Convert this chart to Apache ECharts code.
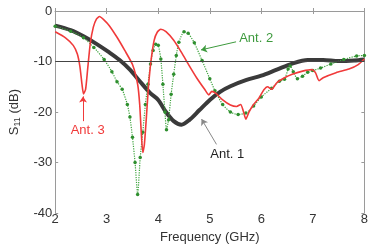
<!DOCTYPE html>
<html>
<head>
<meta charset="utf-8">
<script src="https://cdn.jsdelivr.net/npm/echarts@6/dist/echarts.min.js"></script>
<style>
html, body { margin: 0; padding: 0; background: #fff; }
#chart { width: 371px; height: 249px; }
</style>
</head>
<body>
<div id="chart"></div>
<script>
// frequency (GHz) and S11 (dB)
var ant1Freq = [2.0, 2.3, 2.55, 2.8, 3.05, 3.25, 3.45, 3.65, 3.85, 4.0, 4.15, 4.3, 4.45, 4.6, 4.8, 5.0, 5.2, 5.4, 5.7, 6.0, 6.3, 6.6, 6.9, 7.2, 7.5, 7.8, 8.0]
var ant1S11 = [-2.9, -3.8, -5.0, -6.5, -8.2, -9.7, -11.6, -14.0, -16.3, -17.6, -20.0, -21.8, -22.5, -21.6, -19.6, -17.6, -16.0, -14.9, -13.7, -12.8, -11.6, -10.4, -9.7, -9.7, -9.9, -9.8, -9.6]

var ant2Freq = [2.0, 2.3, 2.55, 2.75, 2.95, 3.1, 3.2, 3.3, 3.4, 3.45, 3.5, 3.55, 3.6, 3.65, 3.7, 3.75, 3.8, 3.85, 3.9, 3.95, 4.0, 4.05, 4.09, 4.13, 4.16, 4.2, 4.25, 4.3, 4.35, 4.4, 4.5, 4.58, 4.7, 4.85, 5.0, 5.1, 5.25, 5.4, 5.55, 5.7, 5.85, 6.0, 6.2, 6.35, 6.45, 6.52, 6.56, 6.62, 6.7, 6.8, 6.9, 7.0, 7.15, 7.35, 7.6, 7.85, 8.0]
var ant2S11 = [-3.0, -4.0, -5.3, -7.2, -9.6, -12.0, -14.0, -15.5, -18.5, -21.0, -25.0, -30.0, -36.3, -29.0, -24.0, -18.5, -14.5, -10.5, -7.8, -6.6, -6.8, -9.5, -14.5, -20.0, -23.5, -21.5, -16.5, -12.5, -8.8, -6.2, -4.1, -4.4, -6.3, -9.8, -13.4, -15.8, -18.5, -20.0, -20.5, -20.2, -18.8, -17.0, -15.3, -13.9, -13.5, -11.5, -10.9, -12.0, -13.4, -12.9, -12.1, -11.8, -11.3, -10.5, -9.6, -8.9, -8.8]

var ant3Freq = [2.0, 2.2, 2.35, 2.43, 2.48, 2.52, 2.55, 2.59, 2.63, 2.68, 2.74, 2.8, 2.86, 2.95, 3.05, 3.2, 3.35, 3.5, 3.6, 3.64, 3.67, 3.7, 3.73, 3.77, 3.81, 3.86, 3.92, 3.98, 4.05, 4.15, 4.3, 4.45, 4.6, 4.75, 4.9, 4.98, 5.04, 5.12, 5.25, 5.4, 5.52, 5.6, 5.65, 5.7, 5.76, 5.85, 5.95, 6.05, 6.12, 6.2, 6.3, 6.45, 6.6, 6.8, 6.98, 7.05, 7.12, 7.2, 7.45, 7.7, 7.88, 8.0]
var ant3S11 = [-4.1, -5.3, -6.8, -8.5, -11.0, -14.5, -16.4, -15.5, -11.5, -6.5, -3.2, -1.6, -1.1, -1.8, -2.9, -5.2, -7.8, -10.6, -14.5, -18.5, -24.0, -28.0, -26.5, -21.0, -15.0, -9.8, -5.8, -4.2, -3.6, -4.1, -5.8, -8.2, -10.8, -13.3, -15.5, -16.6, -15.9, -16.3, -17.6, -18.6, -18.9, -18.5, -19.8, -21.4, -20.0, -18.5, -17.3, -15.6, -15.0, -15.5, -14.2, -13.2, -12.5, -11.9, -11.6, -12.2, -13.8, -13.2, -12.2, -11.5, -10.6, -9.5]

var refLevel = -10
var xTicks = { min: 2, max: 8, step: 1 }
var yTicks = { min: -40, max: 0, step: 10 }

// annotations: [label, text pos, arrow from, arrow to, colour]
var notes = [
  ['Ant. 2', [5.9, -5.4], [5.51, -6.1], [4.83, -7.7], '#3d9a3d'],
  ['Ant. 3', [2.63, -23.7], [2.54, -21.8], [2.54, -16.9], '#f03a3a'],
  ['Ant. 1', [5.34, -28.4], [5.13, -26.4], [4.84, -21.4], '#222']
]

function pairs(xs, ys) {
  return xs.map(function (x, i) { return [x, ys[i]] })
}

var font = 'Liberation Sans, Arial, sans-serif'
var chart = echarts.init(document.getElementById('chart'))

var arrowLines = notes.map(function (n) {
  return [
    { coord: n[2], lineStyle: { color: n[4] === '#222' ? '#888' : n[4], width: 1, type: 'solid' } },
    { coord: n[3] }
  ]
})

var baseAxis = {
  type: 'value',
  axisLine: { show: true, lineStyle: { color: '#9a9a9a', width: 1 } },
  axisTick: { show: true, inside: true, length: 3, lineStyle: { color: '#9a9a9a' } },
  splitLine: { show: false }
}

chart.setOption({
  animation: false,
  grid: { left: 55, right: 4, top: 11, bottom: 32 },
  xAxis: [
    Object.assign({}, baseAxis, {
      min: xTicks.min, max: xTicks.max, interval: xTicks.step,
      position: 'bottom',
      name: 'Frequency (GHz)', nameLocation: 'middle', nameGap: 14,
      nameTextStyle: { fontFamily: font, fontSize: 13, color: '#333' },
      axisLabel: { margin: 0, fontFamily: font, fontSize: 13, color: '#333' }
    }),
    Object.assign({}, baseAxis, {
      min: xTicks.min, max: xTicks.max, interval: xTicks.step,
      position: 'top', axisLabel: { show: false }
    })
  ],
  yAxis: [
    Object.assign({}, baseAxis, {
      min: yTicks.min, max: yTicks.max, interval: yTicks.step,
      position: 'left',
      name: 'S{sub|11} (dB)', nameLocation: 'middle', nameGap: 31, nameRotate: 90,
      nameTextStyle: {
        fontFamily: font, fontSize: 13, color: '#333',
        rich: { sub: { fontFamily: font, fontSize: 9, color: '#333', padding: [7, 0, 0, 0] } }
      },
      axisLabel: { margin: 3, fontFamily: font, fontSize: 13, color: '#333' }
    }),
    Object.assign({}, baseAxis, {
      min: yTicks.min, max: yTicks.max, interval: yTicks.step,
      position: 'right', axisLabel: { show: false }
    })
  ],
  series: [
    {
      name: 'Ant. 1', type: 'line', smooth: 0.3,
      data: pairs(ant1Freq, ant1S11),
      symbol: 'none',
      lineStyle: { color: '#3a3a3a', width: 4 },
      z: 2
    },
    {
      name: 'Ant. 2', type: 'line', smooth: 0.2,
      data: pairs(ant2Freq, ant2S11),
      symbol: 'circle', symbolSize: 3.5, showAllSymbol: true,
      itemStyle: { color: '#2f8f2f' },
      lineStyle: { color: '#3da33d', width: 1.2, type: 'dotted' },
      z: 3
    },
    {
      name: 'Ant. 3', type: 'line', smooth: 0.2,
      data: pairs(ant3Freq, ant3S11),
      symbol: 'none',
      lineStyle: { color: '#f03a3a', width: 1.6 },
      z: 4,
      markLine: {
        silent: true, symbol: ['none', 'arrow'], symbolSize: 6,
        label: { show: false },
        data: arrowLines
      }
    },
    {
      name: 'ref', type: 'line', data: [],
      markLine: {
        silent: true, symbol: 'none',
        label: { show: false },
        lineStyle: { color: '#444', width: 1, type: 'solid' },
        data: [{ yAxis: refLevel }]
      },
      z: 1
    }
  ]
})

var texts = notes.map(function (n) {
  var p = chart.convertToPixel({ gridIndex: 0 }, n[1])
  return {
    type: 'text', x: p[0], y: p[1],
    style: {
      text: n[0], fill: n[4], font: '13px ' + font,
      align: 'center', verticalAlign: 'middle'
    },
    z: 10
  }
})
chart.setOption({ graphic: texts })
</script>
</body>
</html>
